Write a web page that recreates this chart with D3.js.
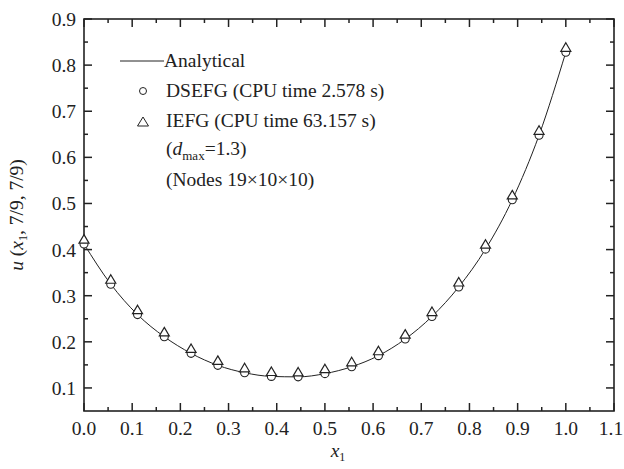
<!DOCTYPE html>
<html><head><meta charset="utf-8">
<script src="https://cdn.jsdelivr.net/npm/d3@7"></script>
<style>body{margin:0;background:#fff}svg{display:block}text{font-family:"Liberation Serif","Times New Roman",serif;fill:#222}</style>
</head><body><svg id="c" width="624" height="469"></svg>
<script>
const nodeX = [0,1/18,2/18,3/18,4/18,5/18,6/18,7/18,8/18,9/18,10/18,11/18,12/18,13/18,14/18,15/18,16/18,17/18,1];
const analytical = [0.412,0.325,0.259,0.211,0.175,0.149,0.133,0.125,0.124,0.131,0.146,0.170,0.206,0.255,0.319,0.401,0.508,0.648,0.828];
const dsefg = [0.412,0.325,0.259,0.211,0.175,0.149,0.133,0.125,0.124,0.131,0.146,0.170,0.206,0.255,0.319,0.401,0.508,0.648,0.828];
const iefg = [0.414,0.327,0.261,0.213,0.177,0.151,0.135,0.127,0.126,0.133,0.148,0.172,0.208,0.257,0.321,0.403,0.510,0.650,0.830];
const xTicks = [0,0.1,0.2,0.3,0.4,0.5,0.6,0.7,0.8,0.9,1.0,1.1];
const yTicks = [0.1,0.2,0.3,0.4,0.5,0.6,0.7,0.8,0.9];
const legendLabels = ["Analytical","DSEFG (CPU time 2.578 s)","IEFG (CPU time 63.157 s)"];

const svg = d3.select("#c");
const L=84,R=614,T=19,B=411;
const x = d3.scaleLinear().domain([0,1.1]).range([L,R]);
const y = d3.scaleLinear().domain([0.05,0.9]).range([B,T]);
const FS = "19.5px";

const xMinor = d3.range(0.05,1.1,0.1);
const yMinor = d3.range(0.05,0.9,0.1).filter(v=>v>0.06);
const tk = svg.append("g").attr("stroke","#222").attr("stroke-width",1.5);
xTicks.forEach(v=>{ tk.append("line").attr("x1",x(v)).attr("x2",x(v)).attr("y1",B).attr("y2",B-8);
  tk.append("line").attr("x1",x(v)).attr("x2",x(v)).attr("y1",T).attr("y2",T+8);});
xMinor.forEach(v=>{ tk.append("line").attr("x1",x(v)).attr("x2",x(v)).attr("y1",B).attr("y2",B-4);
  tk.append("line").attr("x1",x(v)).attr("x2",x(v)).attr("y1",T).attr("y2",T+4);});
yTicks.forEach(v=>{ tk.append("line").attr("y1",y(v)).attr("y2",y(v)).attr("x1",L).attr("x2",L+8);
  tk.append("line").attr("y1",y(v)).attr("y2",y(v)).attr("x1",R).attr("x2",R-8);});
yMinor.forEach(v=>{ tk.append("line").attr("y1",y(v)).attr("y2",y(v)).attr("x1",L).attr("x2",L+4);
  tk.append("line").attr("y1",y(v)).attr("y2",y(v)).attr("x1",R).attr("x2",R-4);});
svg.append("rect").attr("x",L).attr("y",T).attr("width",R-L).attr("height",B-T)
  .attr("fill","none").attr("stroke","#222").attr("stroke-width",1.6);

xTicks.forEach((v,i)=>svg.append("text").attr("x",x(v)-(i===xTicks.length-1?3:0)).attr("y",B+24).attr("text-anchor","middle")
  .style("font-size",FS).text(v.toFixed(1)));
yTicks.forEach(v=>svg.append("text").attr("x",L-8).attr("y",y(v)+7).attr("text-anchor","end")
  .style("font-size",FS).text(v.toFixed(1)));

const xt = svg.append("text").attr("x",338).attr("y",457).attr("text-anchor","middle").style("font-size",FS);
xt.append("tspan").style("font-style","italic").text("x");
xt.append("tspan").attr("dy",4).style("font-size","12px").text("1");
const yt = svg.append("text").attr("transform","translate(23,215) rotate(-90)").attr("text-anchor","middle").style("font-size",FS);
yt.append("tspan").style("font-style","italic").text("u");
yt.append("tspan").text(" (");
yt.append("tspan").style("font-style","italic").text("x");
yt.append("tspan").attr("dy",4).style("font-size","12px").text("1");
yt.append("tspan").attr("dy",-4).text(", 7/9, 7/9)");

const pts = nodeX.map((v,i)=>[v,analytical[i]]);
svg.append("path").datum(pts).attr("fill","none").attr("stroke","#222").attr("stroke-width",1)
  .attr("d",d3.line().x(d=>x(d[0])).y(d=>y(d[1])).curve(d3.curveMonotoneX));

const triPath = "M0,-9.5L5,-1L-5,-1Z";
svg.append("g").selectAll("circle").data(nodeX).join("circle")
  .attr("cx",d=>x(d)).attr("cy",(d,i)=>y(dsefg[i])).attr("r",4)
  .attr("fill","#fff").attr("stroke","#222").attr("stroke-width",1.1);
svg.append("g").selectAll("path").data(nodeX).join("path")
  .attr("transform",(d,i)=>`translate(${x(d)},${y(iefg[i])+1})`).attr("d",triPath)
  .attr("fill","#fff").attr("stroke","#222").attr("stroke-width",1.2);

const lg = svg.append("g");
lg.append("line").attr("x1",120).attr("x2",164).attr("y1",61).attr("y2",61).attr("stroke","#222").attr("stroke-width",1);
lg.append("text").attr("x",164).attr("y",67).style("font-size",FS).text(legendLabels[0]);
lg.append("circle").attr("cx",143).attr("cy",91).attr("r",3.5).attr("fill","#fff").attr("stroke","#222");
lg.append("text").attr("x",166).attr("y",97).style("font-size",FS).text(legendLabels[1]);
lg.append("path").attr("transform","translate(143,126)").attr("d","M0,-9L5.5,0L-5.5,0Z").attr("fill","#fff").attr("stroke","#222");
lg.append("text").attr("x",166).attr("y",127).style("font-size",FS).text(legendLabels[2]);
const dt = lg.append("text").attr("x",166).attr("y",155).style("font-size",FS);
dt.append("tspan").text("(");
dt.append("tspan").style("font-style","italic").text("d");
dt.append("tspan").attr("dy",5).style("font-size","13px").text("max");
dt.append("tspan").attr("dy",-5).text("=1.3)");
lg.append("text").attr("x",166).attr("y",186).style("font-size",FS).text("(Nodes 19×10×10)");
</script></body></html>
